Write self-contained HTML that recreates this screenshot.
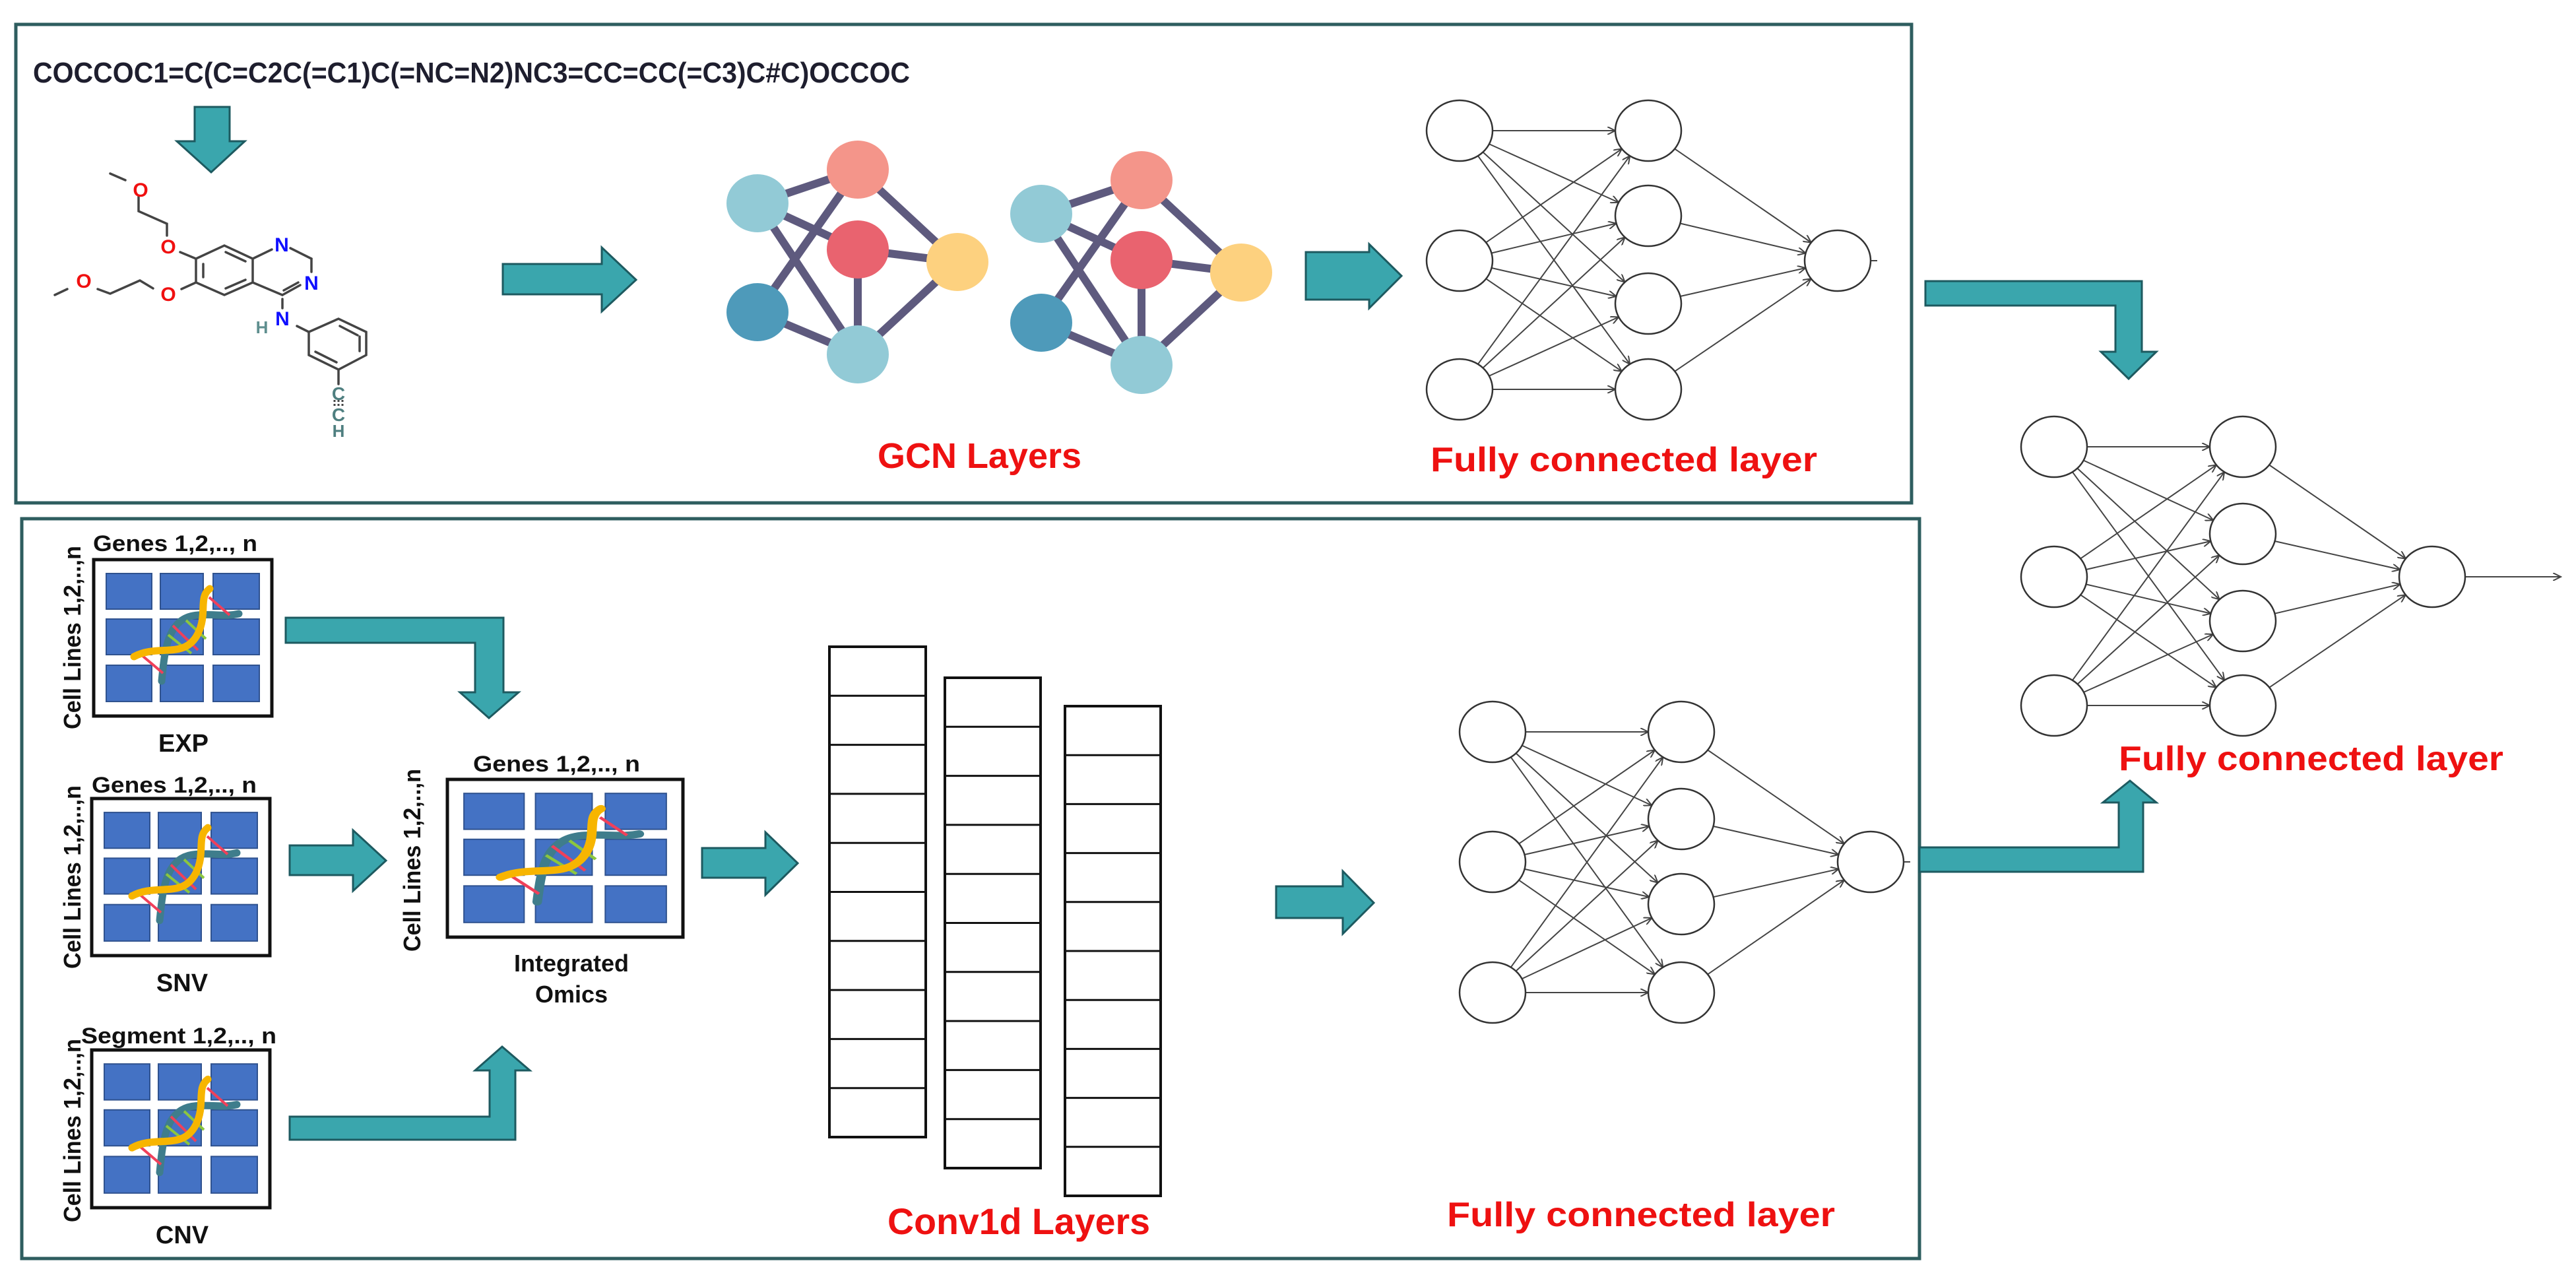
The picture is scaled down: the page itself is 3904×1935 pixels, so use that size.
<!DOCTYPE html>
<html><head><meta charset="utf-8"><style>
html,body{margin:0;padding:0;background:#fff;}
svg{display:block;}
.t{font-family:"Liberation Sans",sans-serif;font-weight:bold;}
</style></head><body>
<svg id="s" width="3904" height="1935" viewBox="0 0 3904 1935" xmlns="http://www.w3.org/2000/svg">
<defs>
<marker id="ah" markerWidth="14" markerHeight="12" refX="12" refY="6" orient="auto" markerUnits="userSpaceOnUse">
<path d="M0,0 L12,6 L0,12" fill="none" stroke="#444" stroke-width="2"/>
</marker>
<g id="dna">
<path d="M103,184 C108,132 113,87 158,84 C188,82 198,87 220,82" fill="none" stroke="#3f7d8c" stroke-width="11" stroke-linecap="round"/>
<line x1="175" y1="57" x2="206" y2="84" stroke="#f0405a" stroke-width="4"/>
<line x1="73" y1="145" x2="105" y2="172" stroke="#f0405a" stroke-width="4"/>
<line x1="120" y1="100" x2="158" y2="137" stroke="#f0405a" stroke-width="4"/>
<line x1="113" y1="114" x2="148" y2="142" stroke="#8cc63f" stroke-width="4"/>
<line x1="140" y1="92" x2="170" y2="120" stroke="#8cc63f" stroke-width="4"/>
<path d="M61,147 C98,127 138,152 158,112 C173,82 158,57 176,44" fill="none" stroke="#f7b500" stroke-width="11" stroke-linecap="round"/>
</g>
</defs>

<rect x="24" y="37" width="2873" height="725" fill="none" stroke="#2e5d5f" stroke-width="5"/>
<rect x="33" y="786" width="2876" height="1121" fill="none" stroke="#2e5d5f" stroke-width="5"/>

<text class="t" x="50" y="125" font-size="44" fill="#1e1e2e" textLength="1329" lengthAdjust="spacingAndGlyphs">COCCOC1=C(C=C2C(=C1)C(=NC=N2)NC3=CC=CC(=C3)C#C)OCCOC</text>

<g id="arrows" fill="#3aa6ad" stroke="#1d5a60" stroke-width="3" stroke-linejoin="miter">
<polygon points="295,162 348,162 348,214 371,214 320,261 268,214 295,214"/>
<polygon points="762,400 912,400 912,375 964,424 912,472 912,446 762,446"/>
<polygon points="1979,382 2075,382 2075,370 2124,418 2075,467 2075,454 1979,454"/>
<polygon points="2918,426 3246,426 3246,533 3268,533 3226,574 3184,533 3206,533 3206,463 2918,463"/>
<polygon points="2909,1321 3248,1321 3248,1216 3268,1216 3228,1183 3187,1216 3211,1216 3211,1284 2909,1284"/>
<polygon points="433,936 763,936 763,1049 786,1049 741,1088 697,1049 720,1049 720,974 433,974"/>
<polygon points="439,1281 535,1281 535,1258 585,1304 535,1350 535,1326 439,1326"/>
<polygon points="439,1727 781,1727 781,1622 803,1622 761,1586 720,1622 742,1622 742,1692 439,1692"/>
<polygon points="1064,1285 1160,1285 1160,1261 1209,1308 1160,1356 1160,1330 1064,1330"/>
<polygon points="1934,1343 2035,1343 2035,1320 2082,1368 2035,1415 2035,1391 1934,1391"/>
</g>

<g stroke="#444" stroke-width="3.5" fill="none" stroke-linecap="round">
<line x1="167" y1="263" x2="190" y2="273"/>
<polyline points="210,298 210,320 253,339 253,357"/>
<line x1="273" y1="382" x2="297" y2="392"/>
<polygon points="297,392 340,372 383,392 383,428 340,447 297,428"/>
<line x1="308" y1="400" x2="308" y2="420"/>
<line x1="342" y1="382" x2="372" y2="396"/>
<line x1="342" y1="437" x2="372" y2="424"/>
<line x1="383" y1="392" x2="412" y2="378"/>
<line x1="440" y1="376" x2="472" y2="392"/>
<line x1="472" y1="392" x2="472" y2="412"/>
<line x1="428" y1="447" x2="455" y2="432"/>
<line x1="430" y1="440" x2="452" y2="428"/>
<line x1="383" y1="428" x2="428" y2="447"/>
<line x1="428" y1="453" x2="428" y2="467"/>
<line x1="297" y1="428" x2="275" y2="438"/>
<polyline points="232,437 212,425 167,445 148,438"/>
<line x1="102" y1="438" x2="83" y2="447"/>
<line x1="450" y1="494" x2="468" y2="503"/>
<polygon points="468,503 513,483 555,503 555,538 513,560 468,538"/>
<line x1="515" y1="494" x2="542" y2="508"/>
<line x1="545" y1="510" x2="545" y2="532"/>
<line x1="478" y1="533" x2="510" y2="549"/>
<line x1="513" y1="560" x2="513" y2="582"/>
</g>
<g stroke="#444" stroke-width="3" stroke-dasharray="3,3"><line x1="507" y1="606" x2="507" y2="618"/><line x1="513" y1="606" x2="513" y2="618"/><line x1="519" y1="606" x2="519" y2="618"/></g>
<g class="t" font-size="30" text-anchor="middle">
<text x="213" y="298" fill="#f01010">O</text>
<text x="255" y="384" fill="#f01010">O</text>
<text x="255" y="456" fill="#f01010">O</text>
<text x="127" y="436" fill="#f01010">O</text>
<text x="427" y="381" fill="#1010ff">N</text>
<text x="472" y="439" fill="#1010ff">N</text>
<text x="428" y="493" fill="#1010ff">N</text>
<text x="397" y="505" fill="#5f8f8f" font-size="26">H</text>
<text x="513" y="606" fill="#4f7f80" font-size="28">C</text>
<text x="513" y="638" fill="#4f7f80" font-size="28">C</text>
<text x="513" y="662" fill="#4f7f80" font-size="26">H</text>
</g>

<g id="gcn"></g>
<g id="nets"></g>
<g id="conv"></g>
<g id="omics"></g>

<g class="t" fill="#ee1111">
<text x="1330" y="709" font-size="54" textLength="309" lengthAdjust="spacingAndGlyphs">GCN Layers</text>
<text x="2168" y="714" font-size="52" textLength="586" lengthAdjust="spacingAndGlyphs">Fully connected layer</text>
<text x="3211" y="1167" font-size="52" textLength="583" lengthAdjust="spacingAndGlyphs">Fully connected layer</text>
<text x="2193" y="1858" font-size="52" textLength="588" lengthAdjust="spacingAndGlyphs">Fully connected layer</text>
<text x="1345" y="1870" font-size="56" textLength="398" lengthAdjust="spacingAndGlyphs">Conv1d Layers</text>
</g>
<g class="t" fill="#111">
<text x="141" y="835" font-size="34" textLength="249" lengthAdjust="spacingAndGlyphs">Genes 1,2,.., n</text>
<text x="139" y="1201" font-size="34" textLength="250" lengthAdjust="spacingAndGlyphs">Genes 1,2,.., n</text>
<text x="123" y="1581" font-size="34" textLength="296" lengthAdjust="spacingAndGlyphs">Segment 1,2,.., n</text>
<text x="717" y="1169" font-size="34" textLength="253" lengthAdjust="spacingAndGlyphs">Genes 1,2,.., n</text>
<text x="278" y="1139" font-size="38" text-anchor="middle">EXP</text>
<text x="276" y="1502" font-size="38" text-anchor="middle">SNV</text>
<text x="276" y="1884" font-size="38" text-anchor="middle">CNV</text>
<text x="866" y="1472" font-size="36" text-anchor="middle">Integrated</text>
<text x="866" y="1519" font-size="36" text-anchor="middle">Omics</text>
<text transform="translate(122,1105) rotate(-90)" font-size="36" textLength="278" lengthAdjust="spacingAndGlyphs">Cell Lines 1,2,..,n</text>
<text transform="translate(122,1468) rotate(-90)" font-size="36" textLength="278" lengthAdjust="spacingAndGlyphs">Cell Lines 1,2,..,n</text>
<text transform="translate(122,1852) rotate(-90)" font-size="36" textLength="278" lengthAdjust="spacingAndGlyphs">Cell Lines 1,2,..,n</text>
<text transform="translate(637,1442) rotate(-90)" font-size="36" textLength="277" lengthAdjust="spacingAndGlyphs">Cell Lines 1,2,..,n</text>
</g>
</svg>
<script>
var NS="http://www.w3.org/2000/svg";
function el(p,t,a){var e=document.createElementNS(NS,t);for(var k in a)e.setAttribute(k,a[k]);p.appendChild(e);return e;}
var g=document.getElementById("gcn");
function graph(dx,dy){
 var N={a:[1148,308,"#92cad6"],b:[1300,257,"#f4958a"],c:[1300,378,"#e9636f"],d:[1451,397,"#fdd17f"],e:[1148,473,"#4e9aba"],f:[1300,537,"#92cad6"]};
 var E=[["a","b"],["a","c"],["a","f"],["b","e"],["b","d"],["c","d"],["c","f"],["e","f"],["d","f"]];
 E.forEach(function(x){var p=N[x[0]],q=N[x[1]];el(g,"line",{x1:p[0]+dx,y1:p[1]+dy,x2:q[0]+dx,y2:q[1]+dy,stroke:"#5e5a7e","stroke-width":12});});
 for(var k in N){var n=N[k];el(g,"ellipse",{cx:n[0]+dx,cy:n[1]+dy,rx:47,ry:44,fill:n[2]});}
}
graph(0,0);graph(430,16);
var nt=document.getElementById("nets");
function net(x1,ys1,x2,ys2,x3,y3,tail){
 var rx=50,ry=46;
 function edge(ax,ay,bx,by){var dx=bx-ax,dy=by-ay,L=Math.sqrt(dx*dx+dy*dy);
  var ux=dx/L,uy=dy/L;
  var o=1/Math.sqrt((ux*ux)/(rx*rx)+(uy*uy)/(ry*ry));
  el(nt,"line",{x1:ax+ux*o,y1:ay+uy*o,x2:bx-ux*o,y2:by-uy*o,stroke:"#444","stroke-width":2,"marker-end":"url(#ah)"});}
 ys1.forEach(function(a){ys2.forEach(function(b){edge(x1,a,x2,b);});});
 ys2.forEach(function(b){edge(x2,b,x3,y3);});
 if(tail){var at={x1:x3+rx,y1:y3,x2:tail,y2:y3,stroke:"#444","stroke-width":2};if(tail-x3>80)at["marker-end"]="url(#ah)";el(nt,"line",at);}
 ys1.forEach(function(y){el(nt,"ellipse",{cx:x1,cy:y,rx:rx,ry:ry,fill:"#fff",stroke:"#333","stroke-width":2.5});});
 ys2.forEach(function(y){el(nt,"ellipse",{cx:x2,cy:y,rx:rx,ry:ry,fill:"#fff",stroke:"#333","stroke-width":2.5});});
 el(nt,"ellipse",{cx:x3,cy:y3,rx:rx,ry:ry,fill:"#fff",stroke:"#333","stroke-width":2.5});
}
net(2212,[198,395,590],2498,[198,327,460,590],2785,395,2845);
net(3113,[677,874,1069],3399,[677,809,941,1069],3686,874,3881);
net(2262,[1109,1306,1504],2548,[1109,1241,1370,1504],2835,1306,2895);
var cv=document.getElementById("conv");
[[1257,980,1403,1723],[1432,1027,1577,1770],[1614,1070,1759,1812]].forEach(function(c){
 el(cv,"rect",{x:c[0],y:c[1],width:c[2]-c[0],height:c[3]-c[1],fill:"#fff",stroke:"#111","stroke-width":4});
 var h=(c[3]-c[1])/10;for(var i=1;i<10;i++)el(cv,"line",{x1:c[0],y1:c[1]+h*i,x2:c[2],y2:c[1]+h*i,stroke:"#111","stroke-width":3});
});
var om=document.getElementById("omics");
function mat(x,y,w,h){
 el(om,"rect",{x:x,y:y,width:w,height:h,fill:"#fff",stroke:"#111","stroke-width":5});
 var sx=w/270,sy=h/237;
 var cx=[19,101,181],cw=[69,65,70],cy=[21,90,160],ch=[54,54,55];
 for(var i=0;i<3;i++)for(var j=0;j<3;j++)
  el(om,"rect",{x:x+cx[i]*sx,y:y+cy[j]*sy,width:cw[i]*sx,height:ch[j]*sy,fill:"#4472c4",stroke:"#2f528f","stroke-width":2});
 el(om,"use",{href:"#dna",transform:"translate("+x+","+y+") scale("+sx+","+sy+")"});
}
mat(142,848,270,237);
mat(139,1210,270,238);
mat(139,1591,270,239);
mat(678,1181,357,239);
</script>
</body></html>
